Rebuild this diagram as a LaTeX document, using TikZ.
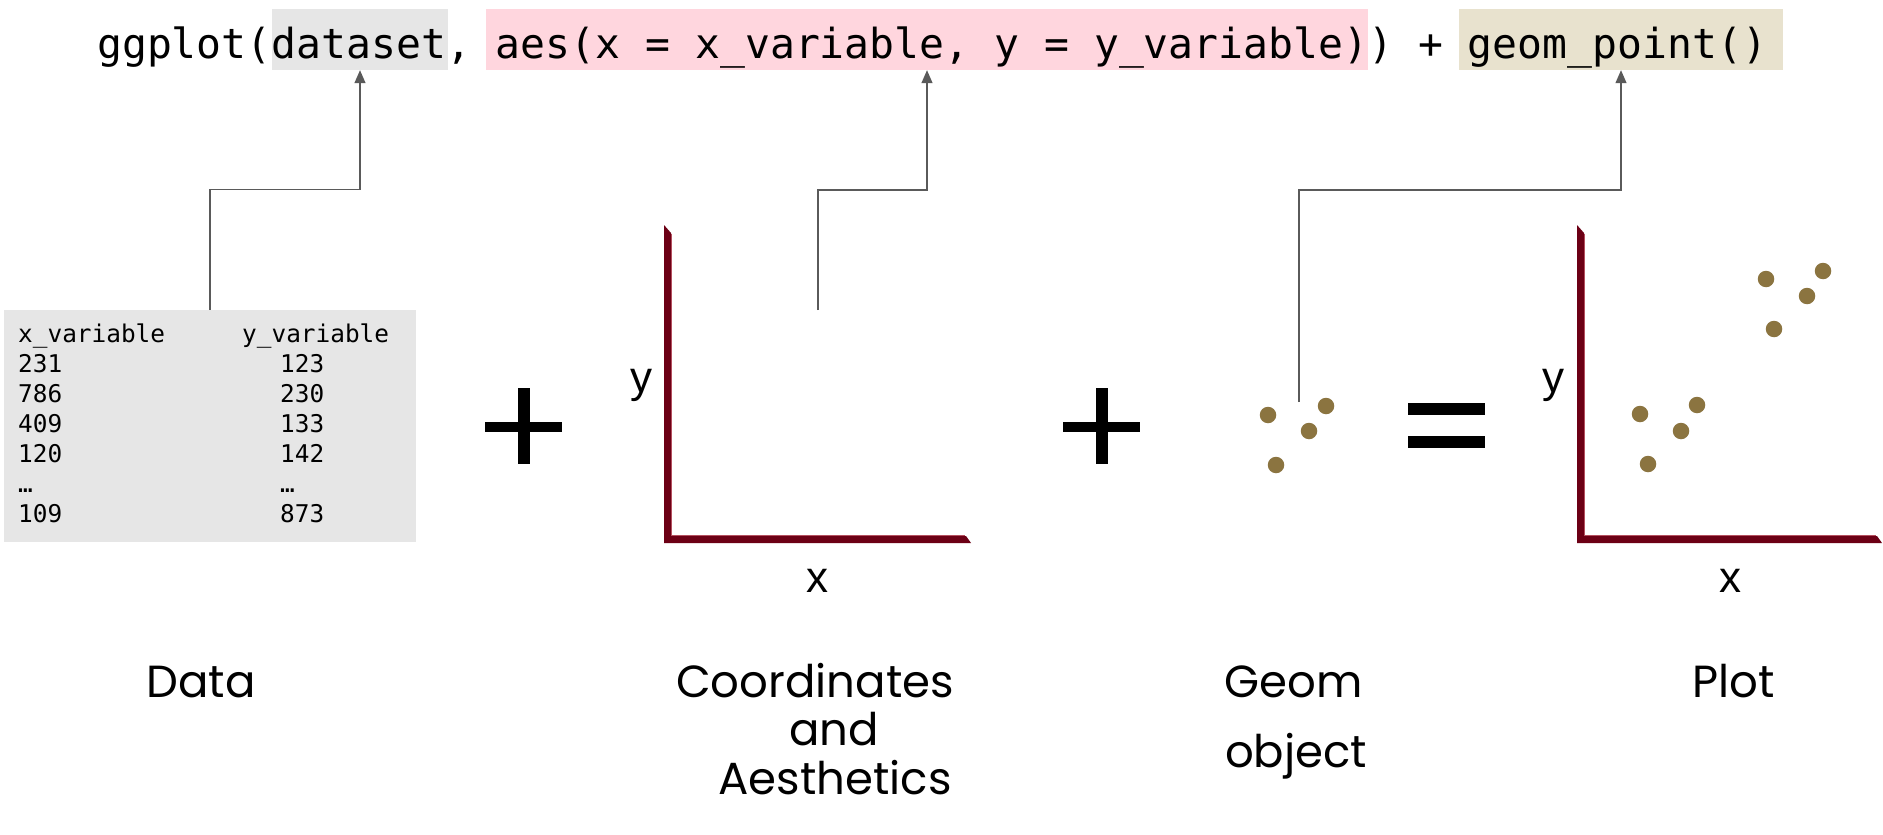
\documentclass[tikz,border=0pt]{standalone}
\usepackage{fontspec}
\setmainfont{Liberation Sans}
\newfontfamily\codefont{DejaVu Sans Mono}[WordSpace={1,0,0}]
\newfontfamily\labfont{Poppins}
\usetikzlibrary{arrows.meta}
\definecolor{axisred}{HTML}{6C0015}
\definecolor{axishl}{HTML}{B4505F}
\definecolor{dotc}{HTML}{8B7440}
\definecolor{grayhl}{HTML}{E6E6E6}
\definecolor{pinkhl}{HTML}{FFD6DE}
\definecolor{beigehl}{HTML}{E8E2CE}
\definecolor{conngray}{HTML}{5A5A5A}
\tikzset{
  hlbox/.style={inner sep=0pt, minimum height=61pt},
  codetxt/.style={inner sep=0pt, anchor=base west, font=\codefont\fontsize{41.4}{50}\selectfont},
  tabtxt/.style={inner sep=0pt, anchor=base west, font=\codefont\fontsize{24.4}{30}\selectfont},
  conn/.style={draw=conngray, line width=1.3pt, -{Triangle[length=13pt,width=11pt]}},
  axlab/.style={inner sep=0pt, anchor=base, font=\fontsize{44}{50}\selectfont},
  caption/.style={inner sep=0pt, anchor=base, font=\labfont\fontsize{45}{52}\selectfont},
  dot/.style={circle, fill=dotc, minimum size=16.5pt, inner sep=0pt},
  axisfill/.style={fill=axisred},
  axishigh/.style={draw=axishl, line width=1pt},
  sign/.style={fill=black}
}
\begin{document}
\begin{tikzpicture}[x=1pt,y=-1pt]
\fill[white] (0,0) rectangle (1883,835);
\useasboundingbox (0,0) rectangle (1883,835);

% highlight boxes behind the code
\node[hlbox, fill=grayhl, minimum width=176pt] (ds) at (360,39.5) {};
\node[hlbox, fill=pinkhl, minimum width=882pt] (aes) at (927,39.5) {};
\node[hlbox, fill=beigehl, minimum width=324pt] (geom) at (1621,39.5) {};
\node[codetxt] (code) at (97,58) {ggplot(dataset, aes(x = x\_variable, y = y\_variable)) + geom\_point()};

% data table
\node[fill=grayhl, minimum width=412pt, minimum height=232pt, inner sep=0pt] (dtab) at (210,426) {};
\node[tabtxt] (hx) at (18,342) {x\_variable};
\node[tabtxt] (hy) at (242,342) {y\_variable};
\foreach \a/\b [count=\i] in {231/123, 786/230, 409/133, 120/142, …/…, 109/873} {
  \node[tabtxt] (lx\i) at (18,{342+30*\i}) {\a};
  \node[tabtxt] (ly\i) at (280,{342+30*\i}) {\b};
}

% connectors
\coordinate (c2) at (818,310);
\coordinate (c3) at (1299,402);
\draw[conn] (dtab.north) -- ++(0,-120) -| (ds.south);
\draw[conn] (c2) -- ++(0,-120) -| (aes.south);
\draw[conn] (c3) -- ++(0,-212) -| (geom.south);

% plus signs and equals
\fill[sign] (485,421.5) rectangle (562,432);
\fill[sign] (518,388) rectangle (530,464);
\fill[sign] (1063,421.5) rectangle (1140,432);
\fill[sign] (1096,388) rectangle (1108,464);
\fill[sign] (1408,403) rectangle (1485,415);
\fill[sign] (1408,436) rectangle (1485,448);

% coordinate axes
\fill[axisfill] (664,225) -- (671,233) -- (671,536) -- (966,536) -- (971,543) -- (664,543) -- cycle;
\draw[axishigh] (671.5,234) -- (671.5,535.5) -- (965,535.5);
\node[axlab] (cy) at (641,392) {y};
\node[axlab] (cx) at (817,592) {x};

% plot axes
\fill[axisfill] (1577,225) -- (1584,233) -- (1584,536) -- (1877,536) -- (1882,543) -- (1577,543) -- cycle;
\draw[axishigh] (1584.5,234) -- (1584.5,535.5) -- (1876,535.5);
\node[axlab] (py) at (1553,392) {y};
\node[axlab] (px) at (1730,592) {x};

% geom dots
\node[dot] (g1) at (1268,415) {};
\node[dot] (g2) at (1326,406) {};
\node[dot] (g3) at (1309,431) {};
\node[dot] (g4) at (1276,465) {};
% plot dots
\node[dot] (p1) at (1640,414) {};
\node[dot] (p2) at (1697,405) {};
\node[dot] (p3) at (1681,431) {};
\node[dot] (p4) at (1648,464) {};
\node[dot] (p5) at (1766,279) {};
\node[dot] (p6) at (1823,271) {};
\node[dot] (p7) at (1807,296) {};
\node[dot] (p8) at (1774,329) {};

% captions
\node[caption] (lData) at (201,697) {Data};
\node[caption] (lCoord) at (815,697) {Coordinates};
\node[caption] (lAnd) at (834,745) {and};
\node[caption] (lAes) at (835,794) {Aesthetics};
\node[caption] (lGeom) at (1294,697) {Geom};
\node[caption] (lObj) at (1296,767) {object};
\node[caption] (lPlot) at (1734,697) {Plot};
\end{tikzpicture}
\end{document}
